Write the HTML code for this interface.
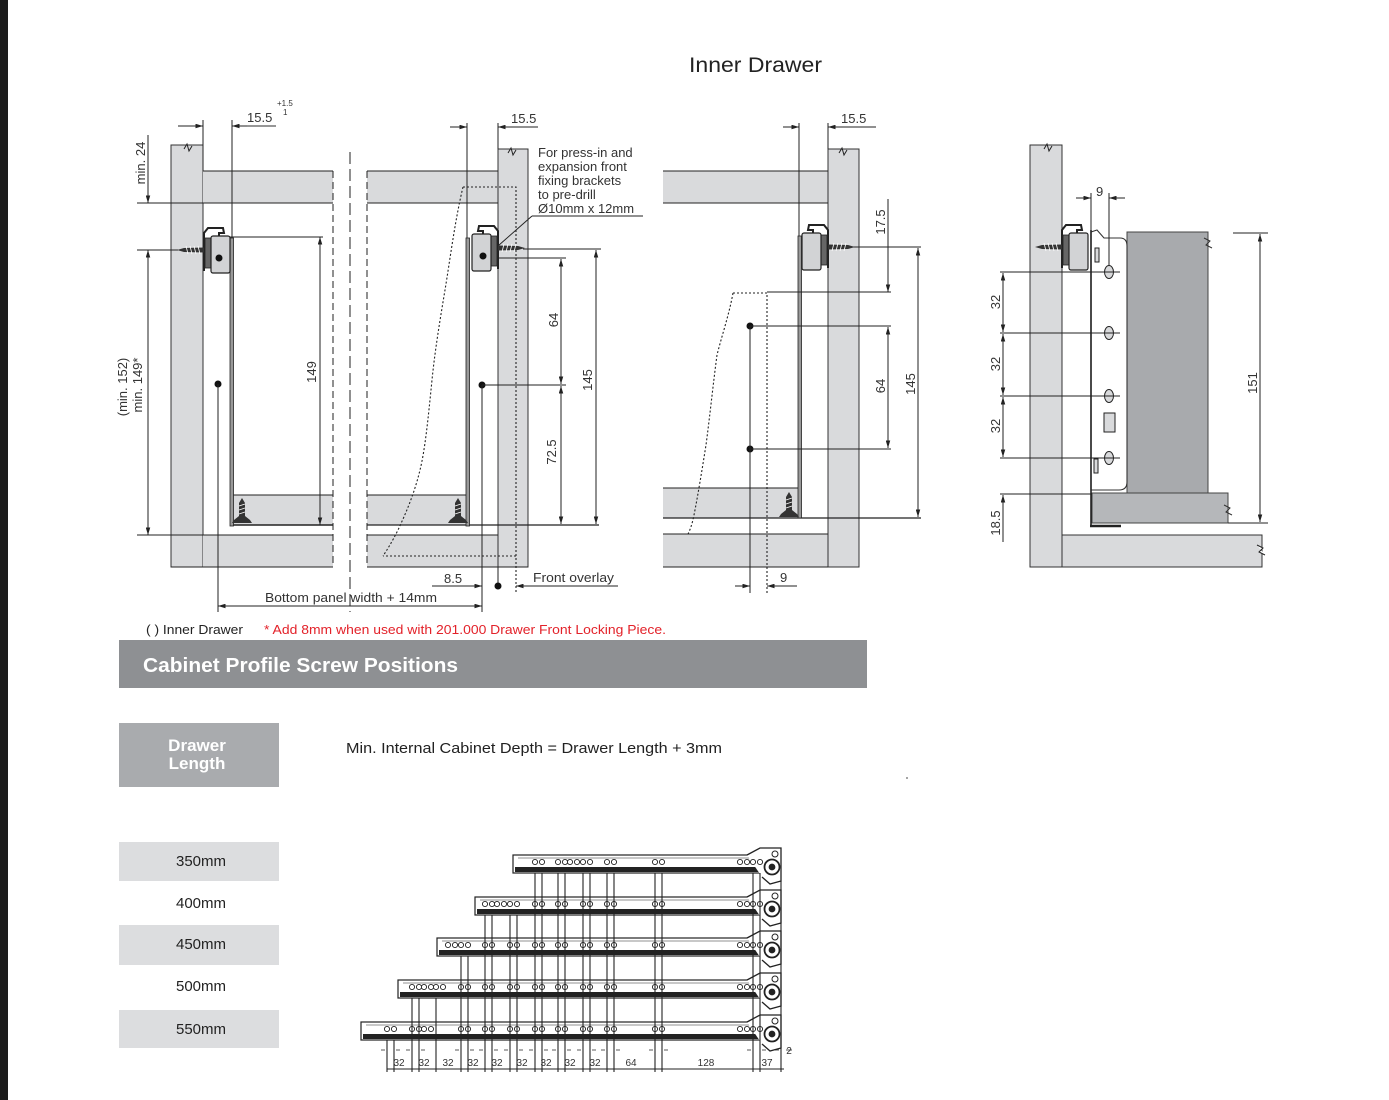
<!DOCTYPE html>
<html><head><meta charset="utf-8"><style>
html,body{margin:0;padding:0;background:#fff;}
svg{display:block;}
text{font-family:"Liberation Sans",Arial,sans-serif;}
</style></head><body>
<svg width="1389" height="1100" viewBox="0 0 1389 1100" xmlns="http://www.w3.org/2000/svg">
<defs>
<marker id="ar" viewBox="0 0 10 6" refX="10" refY="3" markerWidth="8" markerHeight="4.5" orient="auto-start-reverse" markerUnits="userSpaceOnUse"><path d="M0,0L10,3L0,6z" fill="#222"/></marker>
<g id="fit">
  <path d="M204,271 L204,233 L208,228 L223,228 L224,233 L219,233 L219,237" stroke="#222" stroke-width="2" fill="none"/>
  <rect x="205" y="238" width="6" height="30" fill="#666" stroke="#222" stroke-width="0.8"/>
  <rect x="211" y="236" width="19" height="37" rx="2" fill="#d2d3d5" stroke="#222" stroke-width="1.2"/>
  <path d="M177,250 L184,248 L204,247.5 L204,252.5 L184,252 Z" fill="#333"/>
  <path d="M186,246 L188,254 M190,246 L192,254 M194,246 L196,254 M198,246 L200,254" stroke="#fff" stroke-width="0.8"/>
</g>
<g id="hp"><circle cx="0" cy="0" r="2.6"/><circle cx="7" cy="0" r="2.6"/></g>
<g id="re">
  <path d="M747,0 L760,-7 L781,-7 L781,26 L770,29 L762,22" fill="#fff" stroke="#222" stroke-width="1.3"/>
  <circle cx="772" cy="12" r="7.5" fill="#fff" stroke="#222" stroke-width="1.8"/>
  <circle cx="772" cy="12" r="2.8" fill="#222"/>
  <circle cx="775" cy="-1" r="3" fill="#fff" stroke="#222" stroke-width="1"/>
</g>
</defs>
<rect x="0" y="0" width="8" height="1100" fill="#1c1c1c"/>

<text x="689" y="72" font-size="21" fill="#222" textLength="133" lengthAdjust="spacingAndGlyphs">Inner Drawer</text>

<g stroke="#222" stroke-width="1" fill="none">
<!-- ============ PANEL 1 ============ -->
<rect x="171" y="145" width="32" height="422" fill="#d9dadc" stroke="#333"/>
<rect x="203" y="171" width="130" height="32" fill="#d9dadc" stroke="none"/>
<rect x="232" y="495" width="101" height="30" fill="#d9dadc" stroke="none"/>
<rect x="203" y="535" width="130" height="32" fill="#d9dadc" stroke="none"/>
<line x1="203" y1="171" x2="333" y2="171"/>
<line x1="137" y1="203" x2="333" y2="203"/>
<line x1="232" y1="495" x2="333" y2="495"/>
<line x1="230" y1="525" x2="333" y2="525" stroke-width="1.6"/>
<line x1="137" y1="535" x2="333" y2="535"/>
<line x1="171" y1="567" x2="333" y2="567"/>
<line x1="333" y1="171" x2="333" y2="567" stroke-dasharray="7 4"/>
<line x1="350" y1="152" x2="350" y2="612" stroke-dasharray="12 5"/>
<path d="M184,149 l3,-5 l2,7 l3,-5" stroke-width="1"/>
<line x1="148" y1="135" x2="148" y2="203" marker-end="url(#ar)"/>
<line x1="137" y1="250" x2="178" y2="250"/>
<line x1="148" y1="250" x2="148" y2="535" marker-start="url(#ar)" marker-end="url(#ar)"/>
<rect x="230" y="238" width="3.5" height="288" fill="#999" stroke="#222" stroke-width="0.8"/>
<line x1="228" y1="237" x2="323" y2="237"/>
<line x1="320" y1="237" x2="320" y2="525" marker-start="url(#ar)" marker-end="url(#ar)"/>
<circle cx="218" cy="384" r="3.5" fill="#111" stroke="none"/>
<line x1="218" y1="384" x2="218" y2="612"/>
<line x1="218" y1="606" x2="482" y2="606" marker-start="url(#ar)" marker-end="url(#ar)"/>
<line x1="203" y1="120" x2="203" y2="171"/>
<line x1="232" y1="120" x2="232" y2="238"/>
<line x1="178" y1="126" x2="203" y2="126" marker-end="url(#ar)"/>
<line x1="276" y1="126" x2="232" y2="126" marker-end="url(#ar)"/>

<!-- ============ PANEL 2 ============ -->
<rect x="367" y="171" width="131" height="32" fill="#d9dadc" stroke="none"/>
<rect x="367" y="495" width="101" height="30" fill="#d9dadc" stroke="none"/>
<rect x="367" y="535" width="131" height="32" fill="#d9dadc" stroke="none"/>
<rect x="498" y="149" width="30" height="418" fill="#d9dadc" stroke="#333"/>
<line x1="367" y1="171" x2="498" y2="171"/>
<line x1="367" y1="203" x2="498" y2="203"/>
<line x1="367" y1="495" x2="468" y2="495"/>
<line x1="367" y1="525" x2="599" y2="525" stroke-width="1.3"/>
<line x1="367" y1="535" x2="498" y2="535"/>
<line x1="367" y1="567" x2="528" y2="567"/>
<line x1="367" y1="171" x2="367" y2="567" stroke-dasharray="7 4"/>
<path d="M508,153 l3,-5 l2,7 l3,-5"/>
<rect x="466" y="238" width="3.5" height="288" fill="#999" stroke="#222" stroke-width="0.8"/>
<path d="M463,187 L516,187 L516,593 M516,556 L383,556 M463,187 C455,220 450,260 445,290 C440,320 435,350 432,380 C428,420 425,450 420,470 C414,495 405,515 398,530 C392,542 387,550 383,556" stroke-dasharray="2 2" stroke-width="1.1"/>
<circle cx="482" cy="258" r="3.5" fill="#111" stroke="none"/>
<circle cx="482" cy="385" r="3.5" fill="#111" stroke="none"/>
<line x1="482" y1="258" x2="566" y2="258"/>
<line x1="482" y1="385" x2="566" y2="385"/>
<line x1="523" y1="249" x2="601" y2="249"/>
<line x1="561" y1="259" x2="561" y2="384" marker-start="url(#ar)" marker-end="url(#ar)"/>
<line x1="561" y1="386" x2="561" y2="524" marker-start="url(#ar)" marker-end="url(#ar)"/>
<line x1="596" y1="250" x2="596" y2="524" marker-start="url(#ar)" marker-end="url(#ar)"/>
<line x1="482" y1="385" x2="482" y2="612"/>
<line x1="498" y1="567" x2="498" y2="586"/>
<circle cx="498" cy="586" r="3.5" fill="#111" stroke="none"/>
<line x1="432" y1="586" x2="482" y2="586" marker-end="url(#ar)"/>
<line x1="618" y1="586" x2="516" y2="586" marker-end="url(#ar)"/>
<line x1="467" y1="123" x2="467" y2="238"/>
<line x1="498" y1="123" x2="498" y2="149"/>
<line x1="450" y1="127" x2="467" y2="127" marker-end="url(#ar)"/>
<line x1="538" y1="127" x2="498" y2="127" marker-end="url(#ar)"/>
<line x1="643" y1="216" x2="532" y2="216"/>
<line x1="532" y1="216" x2="490" y2="253"/>

<!-- ============ PANEL 3 ============ -->
<rect x="663" y="171" width="165" height="32" fill="#d9dadc" stroke="none"/>
<rect x="663" y="488" width="135" height="30" fill="#d9dadc" stroke="none"/>
<rect x="663" y="534" width="165" height="33" fill="#d9dadc" stroke="none"/>
<rect x="828" y="149" width="31" height="418" fill="#d9dadc" stroke="#333"/>
<line x1="663" y1="171" x2="828" y2="171"/>
<line x1="663" y1="203" x2="828" y2="203"/>
<line x1="663" y1="488" x2="798" y2="488"/>
<line x1="663" y1="518" x2="921" y2="518" stroke-width="1.3"/>
<line x1="663" y1="534" x2="828" y2="534"/>
<line x1="663" y1="567" x2="828" y2="567"/>
<path d="M839,153 l3,-5 l2,7 l3,-5"/>
<rect x="798" y="236" width="3.5" height="282" fill="#999" stroke="#222" stroke-width="0.8"/>
<path d="M733,293 L767,293 L767,593 M767,534 L688,534 M733,293 C729,315 722,335 717,355 C713,385 710,415 706,445 C702,470 698,495 694,515 C692,525 690,530 688,534" stroke-dasharray="2 2" stroke-width="1.1"/>
<circle cx="750" cy="326" r="3.5" fill="#111" stroke="none"/>
<circle cx="750" cy="449" r="3.5" fill="#111" stroke="none"/>
<line x1="750" y1="326" x2="750" y2="593"/>
<line x1="767" y1="292" x2="891" y2="292"/>
<line x1="750" y1="326" x2="891" y2="326"/>
<line x1="750" y1="449" x2="891" y2="449"/>
<line x1="852" y1="247" x2="921" y2="247"/>
<line x1="888" y1="199" x2="888" y2="292" marker-end="url(#ar)"/>
<line x1="888" y1="327" x2="888" y2="448" marker-start="url(#ar)" marker-end="url(#ar)"/>
<line x1="918" y1="248" x2="918" y2="517" marker-start="url(#ar)" marker-end="url(#ar)"/>
<line x1="799" y1="123" x2="799" y2="236"/>
<line x1="828" y1="123" x2="828" y2="149"/>
<line x1="783" y1="127" x2="799" y2="127" marker-end="url(#ar)"/>
<line x1="876" y1="127" x2="828" y2="127" marker-end="url(#ar)"/>
<line x1="735" y1="586" x2="750" y2="586" marker-end="url(#ar)"/>
<line x1="797" y1="586" x2="767" y2="586" marker-end="url(#ar)"/>

<!-- ============ PANEL 4 ============ -->
<rect x="1030" y="145" width="32" height="422" fill="#d9dadc" stroke="#333"/>
<path d="M1044,149 l3,-5 l2,7 l3,-5"/>
<rect x="1062" y="535" width="200" height="32" fill="#d9dadc" stroke="#333"/>
<path d="M1257,545 l6,3 l-4,4 l6,3" fill="#fff"/>
<rect x="1127" y="232" width="81" height="261" fill="#a8aaad" stroke="#444"/>
<path d="M1204,238 l6,3 l-4,4 l6,3" stroke="#333"/>
<rect x="1092" y="493" width="136" height="30" fill="#b5b7ba" stroke="#444"/>
<path d="M1224,505 l6,3 l-4,4 l6,3" stroke="#333"/>
<path d="M1091,490 L1091,232 L1097,230 L1104,238 L1120,238 Q1127,238 1127,246 L1127,482 Q1127,490 1119,490 Z" fill="#fff" stroke="#333" stroke-width="1.1"/>
<line x1="1091" y1="230" x2="1091" y2="525" stroke-width="1.6"/>
<path d="M1090,526 L1121,526" stroke-width="2.5"/>
<ellipse cx="1109" cy="272" rx="4.5" ry="6.5" fill="#d9dadc"/>
<ellipse cx="1109" cy="333" rx="4.5" ry="6.5" fill="#d9dadc"/>
<ellipse cx="1109" cy="396" rx="4.5" ry="6.5" fill="#d9dadc"/>
<ellipse cx="1109" cy="458" rx="4.5" ry="6.5" fill="#d9dadc"/>
<rect x="1104" y="413" width="11" height="19" fill="#d9dadc"/>
<rect x="1095" y="248" width="4" height="14" fill="#d9dadc"/>
<rect x="1094" y="459" width="4" height="14" fill="#d9dadc"/>
<line x1="1233" y1="233" x2="1268" y2="233"/>
<line x1="1228" y1="523" x2="1268" y2="523"/>
<line x1="1260" y1="234" x2="1260" y2="522" marker-start="url(#ar)" marker-end="url(#ar)"/>
<line x1="1000" y1="272" x2="1120" y2="272"/>
<line x1="1000" y1="333" x2="1120" y2="333"/>
<line x1="1000" y1="396" x2="1120" y2="396"/>
<line x1="1000" y1="458" x2="1120" y2="458"/>
<line x1="1003" y1="273" x2="1003" y2="332" marker-start="url(#ar)" marker-end="url(#ar)"/>
<line x1="1003" y1="334" x2="1003" y2="395" marker-start="url(#ar)" marker-end="url(#ar)"/>
<line x1="1003" y1="397" x2="1003" y2="457" marker-start="url(#ar)" marker-end="url(#ar)"/>
<line x1="1000" y1="494" x2="1092" y2="494"/>
<line x1="1003" y1="495" x2="1003" y2="542" marker-start="url(#ar)"/>
<line x1="1091" y1="193" x2="1091" y2="230"/>
<line x1="1109" y1="193" x2="1109" y2="266"/>
<line x1="1076" y1="198" x2="1091" y2="198" marker-end="url(#ar)"/>
<line x1="1125" y1="198" x2="1109" y2="198" marker-end="url(#ar)"/>
</g>

<use href="#fit"/>
<circle cx="219" cy="258" r="3.5" fill="#111"/>
<use href="#fit" transform="translate(702,-2) scale(-1,1)"/>
<circle cx="483" cy="256" r="3.5" fill="#111"/>
<use href="#fit" transform="translate(1032,-3) scale(-1,1)"/>
<use href="#fit" transform="translate(858,-3)"/>

<g fill="#333">
<path d="M242,498 L245,503 L245,516 L250,520 L252,523 L232,523 L234,520 L239,516 L239,503 Z"/>
<path d="M458,498 L461,503 L461,516 L466,520 L468,523 L448,523 L450,520 L455,516 L455,503 Z"/>
<path d="M789,492 L792,497 L792,510 L797,514 L799,517 L779,517 L781,514 L786,510 L786,497 Z"/>
</g>
<g stroke="#fff" stroke-width="0.7">
<path d="M239,506 L245,504 M239,510 L245,508 M239,514 L245,512"/>
<path d="M455,506 L461,504 M455,510 L461,508 M455,514 L461,512"/>
<path d="M786,500 L792,498 M786,504 L792,502 M786,508 L792,506"/>
</g>

<g fill="#333" font-size="13">
<text x="247" y="122">15.5</text>
<text x="277" y="106" font-size="8">+1.5</text>
<text x="283" y="115" font-size="8">1</text>
<text transform="translate(145,163) rotate(-90)" text-anchor="middle">min. 24</text>
<text transform="translate(127,387) rotate(-90)" text-anchor="middle">(min. 152)</text>
<text transform="translate(142,385) rotate(-90)" text-anchor="middle">min. 149*</text>
<text transform="translate(316,372) rotate(-90)" text-anchor="middle">149</text>
<text x="265" y="602" textLength="172" lengthAdjust="spacingAndGlyphs">Bottom panel width + 14mm</text>
<text x="511" y="123">15.5</text>
<text x="538" y="157">For press-in and</text>
<text x="538" y="171">expansion front</text>
<text x="538" y="185">fixing brackets</text>
<text x="538" y="199">to pre-drill</text>
<text x="538" y="213">Ø10mm x 12mm</text>
<text transform="translate(558,320) rotate(-90)" text-anchor="middle">64</text>
<text transform="translate(592,380) rotate(-90)" text-anchor="middle">145</text>
<text transform="translate(556,452) rotate(-90)" text-anchor="middle">72.5</text>
<text x="444" y="583">8.5</text>
<text x="533" y="582" textLength="81" lengthAdjust="spacingAndGlyphs">Front overlay</text>
<text x="841" y="123">15.5</text>
<text transform="translate(885,222) rotate(-90)" text-anchor="middle">17.5</text>
<text transform="translate(885,386) rotate(-90)" text-anchor="middle">64</text>
<text transform="translate(915,384) rotate(-90)" text-anchor="middle">145</text>
<text x="780" y="582">9</text>
<text x="1096" y="196">9</text>
<text transform="translate(1000,302) rotate(-90)" text-anchor="middle">32</text>
<text transform="translate(1000,364) rotate(-90)" text-anchor="middle">32</text>
<text transform="translate(1000,426) rotate(-90)" text-anchor="middle">32</text>
<text transform="translate(1000,523) rotate(-90)" text-anchor="middle">18.5</text>
<text transform="translate(1257,383) rotate(-90)" text-anchor="middle">151</text>
</g>
<g stroke="#333" stroke-width="0.8">
<line x1="247" y1="126" x2="276" y2="126"/>
</g>

<text x="146" y="634" font-size="13" fill="#222" textLength="97" lengthAdjust="spacingAndGlyphs">( ) Inner Drawer</text>
<text x="264" y="634" font-size="13" fill="#e3222a" textLength="402" lengthAdjust="spacingAndGlyphs">* Add 8mm when used with 201.000 Drawer Front Locking Piece.</text>

<rect x="119" y="640" width="748" height="48" fill="#8e9093"/>
<text x="143" y="672" font-size="20" font-weight="bold" fill="#fff" textLength="315" lengthAdjust="spacingAndGlyphs">Cabinet Profile Screw Positions</text>

<rect x="119" y="723" width="160" height="64" fill="#a9abae"/>
<text x="197" y="751" font-size="17" font-weight="bold" fill="#fff" text-anchor="middle">Drawer</text>
<text x="197" y="769" font-size="17" font-weight="bold" fill="#fff" text-anchor="middle">Length</text>
<text x="346" y="753" font-size="15" fill="#222" textLength="376" lengthAdjust="spacingAndGlyphs">Min. Internal Cabinet Depth = Drawer Length + 3mm</text>
<circle cx="907" cy="778" r="1" fill="#888"/>

<rect x="119" y="842" width="160" height="39" fill="#dcdddf"/>
<rect x="119" y="925" width="160" height="40" fill="#dcdddf"/>
<rect x="119" y="1010" width="160" height="38" fill="#dcdddf"/>
<g font-size="15" fill="#222" text-anchor="middle">
<text x="201" y="866">350mm</text>
<text x="201" y="908">400mm</text>
<text x="201" y="949">450mm</text>
<text x="201" y="991">500mm</text>
<text x="201" y="1034">550mm</text>
</g>

<g stroke="#222" stroke-width="1.2">
<g transform="translate(0,855)">
<rect x="513" y="0" width="252" height="18" fill="#fff"/>
<rect x="515" y="12" width="250" height="5" fill="#222" stroke="none"/>
<line x1="518" y1="3" x2="765" y2="3" stroke-width="0.6"/>
<use href="#re"/>
<g fill="#fff" stroke-width="0.9">
<use href="#hp" x="535" y="7"/><use href="#hp" x="558" y="7"/><use href="#hp" x="570" y="7"/><use href="#hp" x="583" y="7"/><use href="#hp" x="607" y="7"/><use href="#hp" x="655" y="7"/><use href="#hp" x="740" y="7"/><use href="#hp" x="753" y="7"/>
</g></g>
<g transform="translate(0,897)">
<rect x="475" y="0" width="290" height="18" fill="#fff"/>
<rect x="477" y="12" width="288" height="5" fill="#222" stroke="none"/>
<line x1="480" y1="3" x2="765" y2="3" stroke-width="0.6"/>
<use href="#re"/>
<g fill="#fff" stroke-width="0.9">
<use href="#hp" x="485" y="7"/><use href="#hp" x="497" y="7"/><use href="#hp" x="510" y="7"/><use href="#hp" x="535" y="7"/><use href="#hp" x="558" y="7"/><use href="#hp" x="583" y="7"/><use href="#hp" x="607" y="7"/><use href="#hp" x="655" y="7"/><use href="#hp" x="740" y="7"/><use href="#hp" x="753" y="7"/>
</g></g>
<g transform="translate(0,938)">
<rect x="437" y="0" width="328" height="18" fill="#fff"/>
<rect x="439" y="12" width="326" height="5" fill="#222" stroke="none"/>
<line x1="442" y1="3" x2="765" y2="3" stroke-width="0.6"/>
<use href="#re"/>
<g fill="#fff" stroke-width="0.9">
<use href="#hp" x="448" y="7"/><use href="#hp" x="461" y="7"/><use href="#hp" x="485" y="7"/><use href="#hp" x="510" y="7"/><use href="#hp" x="535" y="7"/><use href="#hp" x="558" y="7"/><use href="#hp" x="583" y="7"/><use href="#hp" x="607" y="7"/><use href="#hp" x="655" y="7"/><use href="#hp" x="740" y="7"/><use href="#hp" x="753" y="7"/>
</g></g>
<g transform="translate(0,980)">
<rect x="398" y="0" width="367" height="18" fill="#fff"/>
<rect x="400" y="12" width="365" height="5" fill="#222" stroke="none"/>
<line x1="403" y1="3" x2="765" y2="3" stroke-width="0.6"/>
<use href="#re"/>
<g fill="#fff" stroke-width="0.9">
<use href="#hp" x="412" y="7"/><use href="#hp" x="424" y="7"/><use href="#hp" x="436" y="7"/><use href="#hp" x="461" y="7"/><use href="#hp" x="485" y="7"/><use href="#hp" x="510" y="7"/><use href="#hp" x="535" y="7"/><use href="#hp" x="558" y="7"/><use href="#hp" x="583" y="7"/><use href="#hp" x="607" y="7"/><use href="#hp" x="655" y="7"/><use href="#hp" x="740" y="7"/><use href="#hp" x="753" y="7"/>
</g></g>
<g transform="translate(0,1022)">
<rect x="361" y="0" width="404" height="18" fill="#fff"/>
<rect x="363" y="12" width="402" height="5" fill="#222" stroke="none"/>
<line x1="366" y1="3" x2="765" y2="3" stroke-width="0.6"/>
<use href="#re"/>
<g fill="#fff" stroke-width="0.9">
<use href="#hp" x="387" y="7"/><use href="#hp" x="412" y="7"/><use href="#hp" x="424" y="7"/><use href="#hp" x="461" y="7"/><use href="#hp" x="485" y="7"/><use href="#hp" x="510" y="7"/><use href="#hp" x="535" y="7"/><use href="#hp" x="558" y="7"/><use href="#hp" x="583" y="7"/><use href="#hp" x="607" y="7"/><use href="#hp" x="655" y="7"/><use href="#hp" x="740" y="7"/><use href="#hp" x="753" y="7"/>
</g></g>

<g stroke-width="1.1">
<path d="M535,873V1072M542,873V1072M558,873V1072M565,873V1072M583,873V1072M590,873V1072M607,873V1072M614,873V1072M655,873V1072M662,873V1072M753,873V1072M760,873V1072M781,881V1072"/>
<path d="M485,915V1072M492,915V1072M510,915V1072M517,915V1072"/>
<path d="M461,956V1072M468,956V1072"/>
<path d="M412,998V1072M419,998V1072M436,998V1072"/>
<path d="M387,1040V1072M394,1040V1072"/>
<line x1="387" y1="1069" x2="784" y2="1069"/>
<path d="M381,1050h4M396,1050h4M406,1050h4M421,1050h4M455,1050h4M470,1050h4M479,1050h4M494,1050h4M504,1050h4M519,1050h4M529,1050h4M544,1050h4M552,1050h4M567,1050h4M577,1050h4M592,1050h4M601,1050h4M616,1050h4M649,1050h4M664,1050h4M747,1050h4M762,1050h4M775,1050h4M786,1050h6" stroke-width="0.7"/>
</g>
</g>
<g font-size="10" fill="#333" text-anchor="middle">
<text x="399" y="1066">32</text>
<text x="424" y="1066">32</text>
<text x="448" y="1066">32</text>
<text x="473" y="1066">32</text>
<text x="497" y="1066">32</text>
<text x="522" y="1066">32</text>
<text x="546" y="1066">32</text>
<text x="570" y="1066">32</text>
<text x="595" y="1066">32</text>
<text x="631" y="1066">64</text>
<text x="706" y="1066">128</text>
<text x="767" y="1066">37</text>
<text x="789" y="1054">2</text>
</g>
</svg>
</body></html>
